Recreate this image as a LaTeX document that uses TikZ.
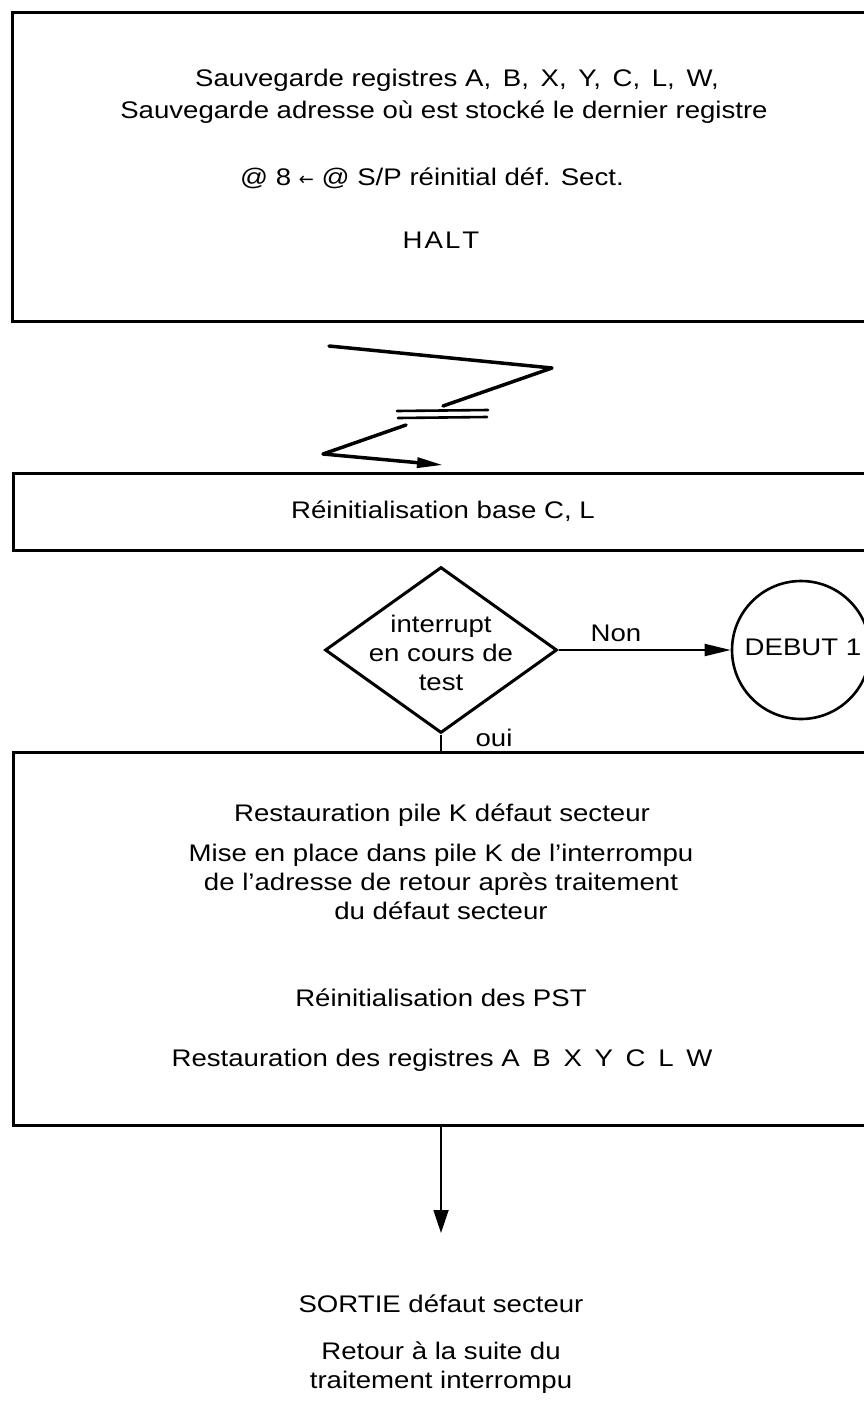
\documentclass[tikz,border=0pt]{standalone}
\usepackage{fontspec}
\setmainfont[FakeStretch=1.15]{Liberation Sans}
\newfontfamily\arrowfont{DejaVu Sans}
\usetikzlibrary{shapes.geometric,arrows.meta}
\begin{document}
\begin{tikzpicture}[x=1pt,y=-1pt,
  lbl/.style={font=\fontsize{24}{29}\selectfont, inner sep=0pt, align=center},
  box/.style={draw, line width=3pt, inner sep=0pt},
  zz/.style={line width=3.5pt, line cap=round, line join=round},
  thinline/.style={line width=2pt},
]
\useasboundingbox (0,0) rectangle (864,1403);
\begin{scope}
\clip (0,0) rectangle (864,1403);
% top box
\node[box, minimum width=868pt, minimum height=309pt] (top) at (446,166.5) {};
\node[lbl] (t1) at (457,80) {Sauvegarde registres A,\hspace{4pt} B,\hspace{4pt} X,\hspace{4pt} Y,\hspace{4pt} C,\hspace{4pt} L,\hspace{4pt} W,};
\node[lbl] (t2) at (444,112) {Sauvegarde adresse où est stocké le dernier registre};
\node[lbl] (t3) at (432,178) {@ 8 {\arrowfont\fontsize{18}{20}\selectfont ←} @ S/P réinitial déf. Sect.};
\node[lbl] (t4) at (441,240) {H\hspace{2pt}A\hspace{2pt}L\hspace{2pt}T};

% zigzag break
\coordinate (z1) at (329,346);
\coordinate (z2) at (552,368);
\coordinate (z3) at (443,406);
\coordinate (z4) at (406,425);
\coordinate (z5) at (323,454);
\coordinate (z6) at (443,465);
\draw[zz] (z1) -- (z2) -- (z3);
\draw[line width=2.6pt, line cap=round] (397,411) -- (488,410);
\draw[line width=2.6pt, line cap=round] (398,418) -- (487,417);
\draw[zz, -{Triangle[length=26pt,width=10pt]}] (z4) -- (z5) -- (z6);

% reinit box
\node[box, minimum width=868pt, minimum height=77pt] (reinit) at (447,511.5) {};
\node[lbl] (r1) at (443,511) {Réinitialisation base C, L};

% decision
\node[diamond, draw, line width=3pt, minimum width=232pt, minimum height=166pt, inner sep=0pt] (dia) at (441,650) {};
\node[lbl] (dt) at (441,653) {interrupt\\en cours de\\test};
\node[circle, draw, line width=2.6pt, minimum size=138pt, inner sep=0pt] (deb) at (801,650) {};
\node[lbl] (debt) at (803,647) {DEBUT 1};
\draw[thinline, -{Triangle[length=26pt,width=12pt]}] (dia.east) -- (deb.west);
\node[lbl] (non) at (616,633) {Non};

% lower box
\node[box, minimum width=868pt, minimum height=373pt] (low) at (447,938.5) {};
\draw[thinline] (dia.south) -- (dia.south |- low.north);
\node[lbl] (oui) at (494,738) {oui};
\node[lbl] (l1) at (442,815) {Restauration pile K défaut secteur};
\node[lbl] (l2) at (441,882) {Mise en place dans pile K de l'interrompu\\de l'adresse de retour après traitement\\du défaut secteur};
\node[lbl] (l3) at (441,998) {Réinitialisation des PST};
\node[lbl] (l4) at (442,1060) {Restauration des registres A\hspace{5pt} B\hspace{5pt} X\hspace{5pt} Y\hspace{5pt} C\hspace{5pt} L\hspace{5pt} W};

% exit
\coordinate (exit) at (441,1233);
\draw[line width=1.8pt, -{Triangle[length=23pt,width=15pt]}] (low.south -| exit) -- (exit);
\node[lbl] (s1) at (441,1304) {SORTIE défaut secteur};
\node[lbl] (s2) at (441,1368) {Retour à la suite du\\traitement interrompu};
\end{scope}
\end{tikzpicture}
\end{document}
